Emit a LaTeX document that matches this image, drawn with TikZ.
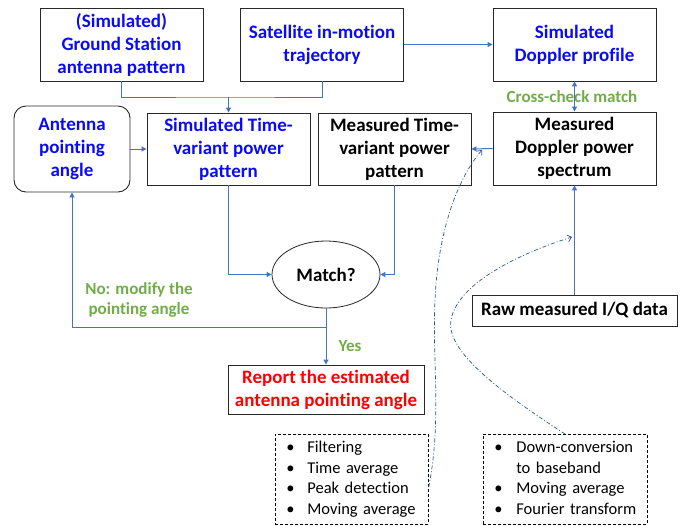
\documentclass[tikz,border=0pt]{standalone}
\usepackage{fontspec}
\setmainfont{Carlito}[Ligatures=NoCommon]
\usetikzlibrary{shapes.geometric,arrows.meta}
\definecolor{txtblue}{RGB}{10,10,250}
\definecolor{okgreen}{RGB}{112,173,71}
\definecolor{linkblue}{RGB}{68,114,196}
\definecolor{dotblue}{RGB}{47,85,151}
\definecolor{boxgray}{RGB}{40,40,40}

\begin{document}
\begin{tikzpicture}[x=1pt,y=-1pt,
  box/.style={draw=boxgray, line width=0.9pt, align=center, inner sep=0pt,
    font=\fontsize{19}{23}\selectfont\bfseries},
  listbox/.style={draw=black, line width=0.7pt, dash pattern=on 3pt off 2pt,
    inner xsep=11pt, inner ysep=0pt, align=left,
    font=\fontsize{16.5}{20.5}\selectfont},
  note/.style={okgreen, align=center, font=\fontsize{17}{20}\selectfont\bfseries},
  flow/.style={linkblue, line width=1pt, -{Triangle[length=5pt,width=5pt]}},
  link/.style={linkblue, line width=1pt},
  hint/.style={dotblue, line width=0.7pt, dash pattern=on 4pt off 2pt on 1pt off 2pt,
    -{Straight Barb[length=4pt,width=7pt]}}]
\useasboundingbox (0,0) rectangle (692,525);

\node[box, text=txtblue, minimum width=163pt, minimum height=73pt] (gs) at (121.5,44.5) {(Simulated)\\Ground Station\\antenna pattern};
\node[box, text=txtblue, minimum width=163pt, minimum height=73pt] (sat) at (322,44.5) {Satellite in-motion\\trajectory};
\node[box, text=txtblue, minimum width=163pt, minimum height=73pt] (simdop) at (574.5,44.5) {Simulated\\Doppler profile};

\node[box, text=txtblue, rounded corners=12pt, minimum width=116pt, minimum height=86pt] (ant) at (72,149) {Antenna\\pointing\\angle};
\node[box, text=txtblue, minimum width=163pt, minimum height=72pt] (simtime) at (228.5,149) {Simulated Time-\\variant power\\pattern};
\node[box, minimum width=153pt, minimum height=72pt] (meastime) at (394.5,149) {Measured Time-\\variant power\\pattern};
\node[box, minimum width=163pt, minimum height=73pt] (measdop) at (574.5,148.5) {Measured\\Doppler power\\spectrum};

\node[box, ellipse, line width=0.8pt, minimum width=108pt, minimum height=67pt] (match) at (326,274.5) {Match?};
\node[box, minimum width=205pt, minimum height=31pt] (raw) at (574.5,310.5) {Raw measured I/Q data};
\node[box, text=red, minimum width=196pt, minimum height=49pt] (report) at (326,389.5) {Report the estimated\\antenna pointing angle};

\node[listbox, anchor=north west, text width=131pt, minimum height=90pt] (list1) at (275,434)
  {\begin{tabular}{@{}p{21pt}@{}l@{}}
   \textbullet & Filtering\\
   \textbullet & Time average\\
   \textbullet & Peak detection\\
   \textbullet & Moving average
   \end{tabular}};
\node[listbox, anchor=north west, text width=142pt, minimum height=90pt] (list2) at (483,434)
  {\begin{tabular}{@{}p{22pt}@{}l@{}}
   \textbullet & Down-conversion\\
               & to baseband\\
   \textbullet & Moving average\\
   \textbullet & Fourier transform
   \end{tabular}};

\node[note] (cross) at (572,97) {Cross-check match};
\node[note, font=\fontsize{17}{19.5}\selectfont\bfseries] (nolabel) at (139,300) {No: modify the\\pointing angle};
\node[note] (yes) at (350,346) {Yes};

\coordinate (join) at (228.5,97);
\coordinate (branch) at (326,327);

\path[draw,link] (gs.south) |- (join) -| (sat.south);
\path[draw,flow] (join) -- (simtime.north);
\path[draw,flow] (sat.east) -- (simdop.west);
\path[draw,flow,{Triangle[length=5pt,width=5pt]}-{Triangle[length=5pt,width=5pt]}] (simdop.south) -- (measdop.north);
\path[draw,flow] (ant.east) -- (simtime.west);
\path[draw,flow] (measdop.west) -- (meastime.east);
\path[draw,flow] (raw.north) -- (measdop.south);
\path[draw,flow] (simtime.south) |- (match.west);
\path[draw,flow] (meastime.south) |- (match.east);
\path[draw,flow] (match.south) -- (report.north);
\path[draw,flow] (branch) -| (ant.south);

\path[draw,hint] (list1.east |- 0,487) .. controls (442,420) and (432,360) .. (435,300)
  .. controls (438,230) and (458,178) .. (482,150);
\path[draw,hint] (565,434) .. controls (505,395) and (445,352) .. (451,320)
  .. controls (458,280) and (530,250) .. (572,237);
\end{tikzpicture}
\end{document}
